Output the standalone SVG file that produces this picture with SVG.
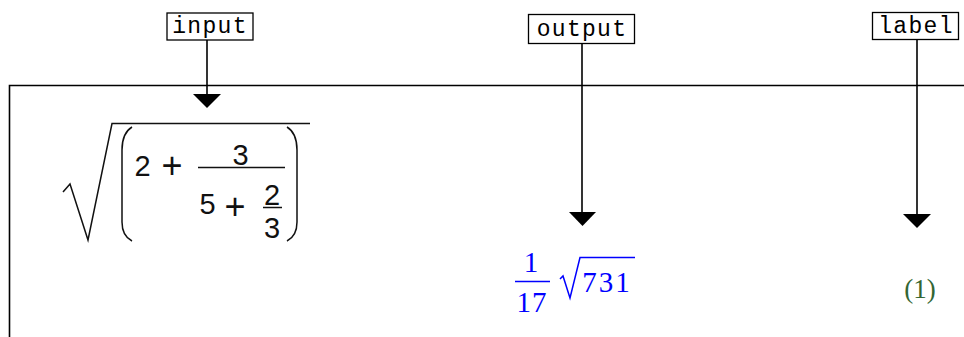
<svg xmlns="http://www.w3.org/2000/svg" width="964" height="337" viewBox="0 0 964 337">
<style>
.box{fill:#fff;stroke:#000;stroke-width:1.3}
.tag{font-family:"Liberation Mono",monospace;font-size:23px;letter-spacing:1.3px;fill:#000}
.conn{stroke:#000;stroke-width:1.6;fill:none}
.head{fill:#000}
.m{font-family:"Liberation Sans",Arial,sans-serif;font-size:29px;fill:#111}
.p{font-family:"Liberation Sans",Arial,sans-serif;font-size:36px;fill:#111}
.ml{stroke:#111;stroke-width:1.5;fill:none}
.out{font-family:"Liberation Serif","Times New Roman",serif;font-size:29px;fill:#0000ff}
.ol{stroke:#0000ff;stroke-width:1.5;fill:none}
.lab{font-family:"Liberation Serif","Times New Roman",serif;font-size:27px;fill:#336633}
</style>
<rect width="964" height="337" fill="#fff"/>
<g id="frame">
<path d="M9.5,337 L9.5,85.5 L964,85.5" stroke="#000" stroke-width="1.6" fill="none"/>
</g>
<g id="connectors">
<line class="conn" x1="207" y1="40" x2="207" y2="95"/>
<polygon class="head" points="193,94 221,94 207,108"/>
<line class="conn" x1="582" y1="44" x2="582" y2="213"/>
<polygon class="head" points="569,212 596,212 582.5,226"/>
<line class="conn" x1="917" y1="40" x2="917" y2="215"/>
<polygon class="head" points="903,214 931,214 917,228"/>
</g>
<g id="input">
<rect class="box" x="167" y="13" width="86" height="27"/>
<text class="tag" x="210" y="33" text-anchor="middle">input</text>
</g>
<g id="output">
<rect class="box" x="528.5" y="14.5" width="106" height="29"/>
<text class="tag" x="582" y="36" text-anchor="middle">output</text>
</g>
<g id="label">
<rect class="box" x="872.5" y="12.5" width="86" height="27"/>
<text class="tag" x="916" y="33" text-anchor="middle">label</text>
</g>
<g id="input-expression">
<path class="ml" d="M63,192 L70,184 L88,240 L112,123.5 L310,123.5"/>
<path class="ml" d="M132,127 Q122,133 122,150 L122,222 Q122,236 132,241"/>
<path class="ml" d="M287,127 Q297,133 297,150 L297,222 Q297,236 287,241"/>
<text class="m" x="142.5" y="176" text-anchor="middle">2</text>
<text class="p" x="172" y="178" text-anchor="middle">+</text>
<line class="ml" x1="198" y1="167.5" x2="285" y2="167.5"/>
<text class="m" x="240.5" y="165" text-anchor="middle">3</text>
<text class="m" x="207.5" y="213.5" text-anchor="middle">5</text>
<text class="p" x="235" y="219" text-anchor="middle">+</text>
<text class="m" x="272" y="205" text-anchor="middle">2</text>
<line class="ml" x1="263" y1="207.5" x2="282" y2="207.5"/>
<text class="m" x="272" y="238" text-anchor="middle">3</text>
</g>
<g id="output-expression">
<text class="out" x="531" y="272" text-anchor="middle">1</text>
<line class="ol" x1="515" y1="281.5" x2="550" y2="281.5"/>
<text class="out" x="532" y="312" text-anchor="middle" letter-spacing="1">17</text>
<path class="ol" d="M560,279 L563,276 L570,298 L580,257.5 L635,257.5"/>
<text class="out" x="607" y="292" text-anchor="middle" letter-spacing="2">731</text>
</g>
<g id="label-value">
<text class="lab" x="920" y="298" text-anchor="middle">(1)</text>
</g>
</svg>
